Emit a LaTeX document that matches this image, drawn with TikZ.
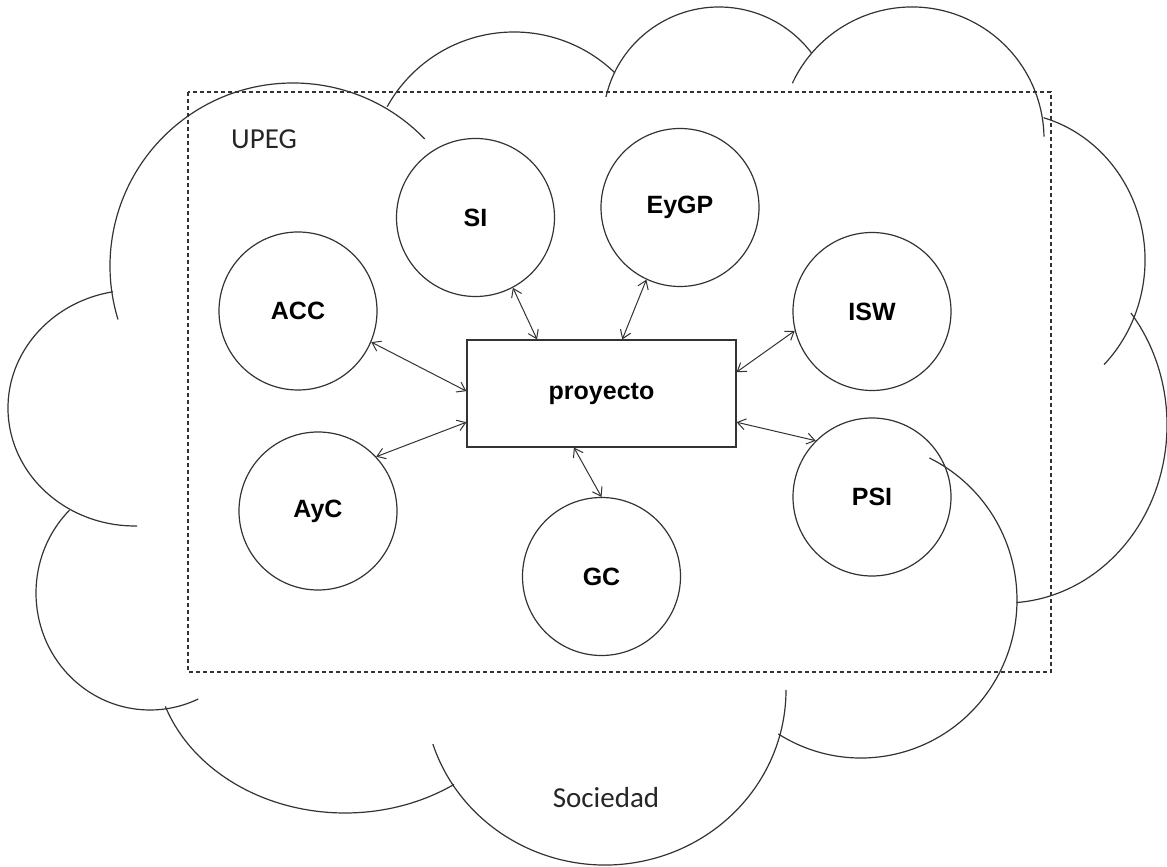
\documentclass[tikz,border=0pt]{standalone}
\usepackage{fontspec}
\newfontfamily\labelfont{Liberation Sans}
\newfontfamily\areafont{Carlito}
\usetikzlibrary{arrows.meta}

\begin{document}
\begin{tikzpicture}[x=1pt,y=1pt,
  ink/.style={draw=black!80, line width=1.2pt},
  unit/.style={ink, circle, minimum size=158pt, inner sep=0pt,
    font=\labelfont\bfseries\fontsize{25}{30}\selectfont},
  link/.style={draw=black!80, line width=1pt,
    {Straight Barb[length=8pt,width=11pt]}-{Straight Barb[length=8pt,width=11pt]}},
  area/.style={font=\areafont\fontsize{29}{34}\selectfont, text=black!85}]
\useasboundingbox (0,0) rectangle (1167,867);
% Draw cloud
\draw[ink] ([shift={(44:183)}]293,601) arc[start angle=44, end angle=197, radius=183];
\draw[ink] ([shift={(100:127 and 118)}]135,459) arc[start angle=100, end angle=271, x radius=127, y radius=118];
\draw[ink] ([shift={(135:114 and 117)}]150,274) arc[start angle=135, end angle=295, x radius=114, y radius=117];
\draw[ink] ([shift={(199:190 and 158)}]345,212) arc[start angle=199, end angle=305, x radius=190, y radius=158];
\draw[ink] ([shift={(198:181 and 175)}]605,177) arc[start angle=198, end angle=360, x radius=181, y radius=175];
\draw[ink] ([shift={(238:156 and 158)}]861,267) arc[start angle=238, end angle=424, x radius=156, y radius=158];
\draw[ink] ([shift={(39:162 and 178)}]1005,442) arc[start angle=39, end angle=-86, x radius=162, y radius=178];
\draw[ink] ([shift={(74:140 and 148)}]1005,607) arc[start angle=74, end angle=-45, x radius=140, y radius=148];
\draw[ink] ([shift={(155:132)}]912,728) arc[start angle=155, end angle=1, radius=132];
\draw[ink] ([shift={(167:116)}]719,744) arc[start angle=167, end angle=37, radius=116];
\draw[ink] ([shift={(151:145)}]514,690) arc[start angle=151, end angle=46, radius=145];
% Draw UPEG frame
\draw[ink, dash pattern=on 4pt off 3pt] (188,775) rectangle (1051,195);
\node[area] (upeg) at (264,728) {UPEG};
\node[area] (sociedad) at (606,69) {Sociedad};
% Draw project and units
\node[ink, rectangle, minimum width=269pt, minimum height=107pt, inner sep=0pt,
  font=\labelfont\bfseries\fontsize{25}{30}\selectfont] (proyecto) at (601.5,473.5) {proyecto};
\node[unit] (SI) at (475.5,649.5) {SI};
\node[unit] (EyGP) at (680,659.5) {EyGP};
\node[unit] (ACC) at (298,556) {ACC};
\node[unit] (ISW) at (872,555.5) {ISW};
\node[unit] (AyC) at (318,356) {AyC};
\node[unit] (GC) at (601.5,290.5) {GC};
\node[unit] (PSI) at (872,370) {PSI};
% Draw links
\draw[link] (ACC.-23) -- (proyecto.179);
\draw[link] (AyC.43) -- (proyecto.192);
\draw[link] (SI.-62) -- (proyecto.140);
\draw[link] (EyGP.-115) -- (proyecto.69);
\draw[link] (ISW.194) -- (proyecto.9);
\draw[link] (PSI.135) -- (proyecto.-12);
\draw[link] (GC.90) -- (proyecto.-117);
\end{tikzpicture}
\end{document}
